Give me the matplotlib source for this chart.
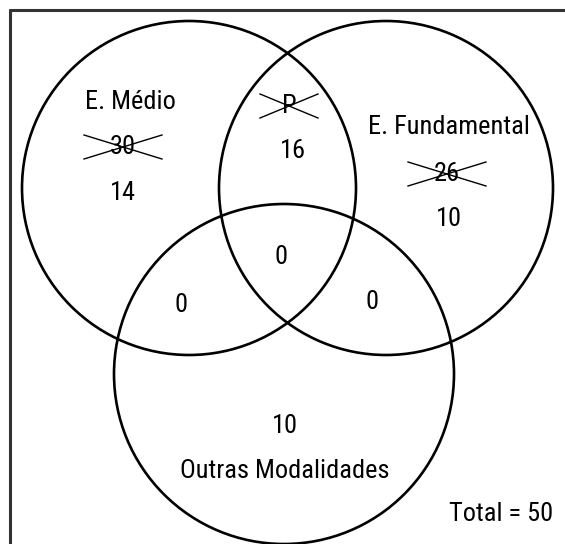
import matplotlib
matplotlib.use("Agg")
import matplotlib.pyplot as plt
from matplotlib.patches import Circle

# set names and counts
set_names = ["E. Médio", "E. Fundamental", "Outras Modalidades"]
old_counts = ["30", "26"]          # crossed out totals
only_counts = [14, 10, 10]         # only medio, only fundamental, only outras
pair_counts = [16, 0, 0]           # medio&fund, medio&outras, fund&outras
triple_count = 0
total = 50

plt.rcParams['font.family'] = ['Liberation Sans Narrow', 'Roboto Condensed', 'DejaVu Sans']

fig = plt.figure(figsize=(5.65, 5.44), dpi=100)
ax = fig.add_axes([0, 0, 1, 1])
ax.set_xlim(0, 565)
ax.set_ylim(544, 0)
ax.set_aspect('equal')
ax.axis('off')

# frame (only top and left visible)
ax.plot([9, 565], [9.5, 9.5], color='#333333', lw=2.2, solid_capstyle='butt')
ax.plot([9.5, 9.5], [9, 544], color='#333333', lw=2.2, solid_capstyle='butt')

# circles: center x, center y, radius
circles = [(189, 188, 167), (386, 188, 167), (284, 374, 170)]
for cx, cy, r in circles:
    ax.add_patch(Circle((cx, cy), r, fill=False, ec='black', lw=1.9))

fs = 19
def txt(x, y, s):
    ax.text(x, y, s, ha='center', va='center', fontsize=fs, color='black')

def crossed(x, y, s, w=39, h=12):
    txt(x, y, s)
    ax.plot([x - w, x + w], [y - h, y + h], color='black', lw=1.0)
    ax.plot([x - w, x + w], [y + h, y - h], color='black', lw=1.0)

# E. Medio
txt(130, 102, set_names[0])
crossed(123, 147, old_counts[0])
txt(123, 193, str(only_counts[0]))

# intersection medio & fundamental
crossed(289, 106, "P", w=29, h=12)
txt(293, 151, str(pair_counts[0]))

# E. Fundamental
txt(449, 127, set_names[1])
crossed(447, 174, old_counts[1])
txt(449, 219, str(only_counts[1]))

# middle / pair regions
txt(281, 257, str(triple_count))
txt(181, 305, str(pair_counts[1]))
txt(372, 302, str(pair_counts[2]))

# Outras Modalidades
txt(285, 426, str(only_counts[2]))
txt(285, 471, set_names[2])

ax.text(553, 514, "Total = %d" % total, ha='right', va='center', fontsize=fs, color='black')

fig.savefig("out.png", dpi=100)
